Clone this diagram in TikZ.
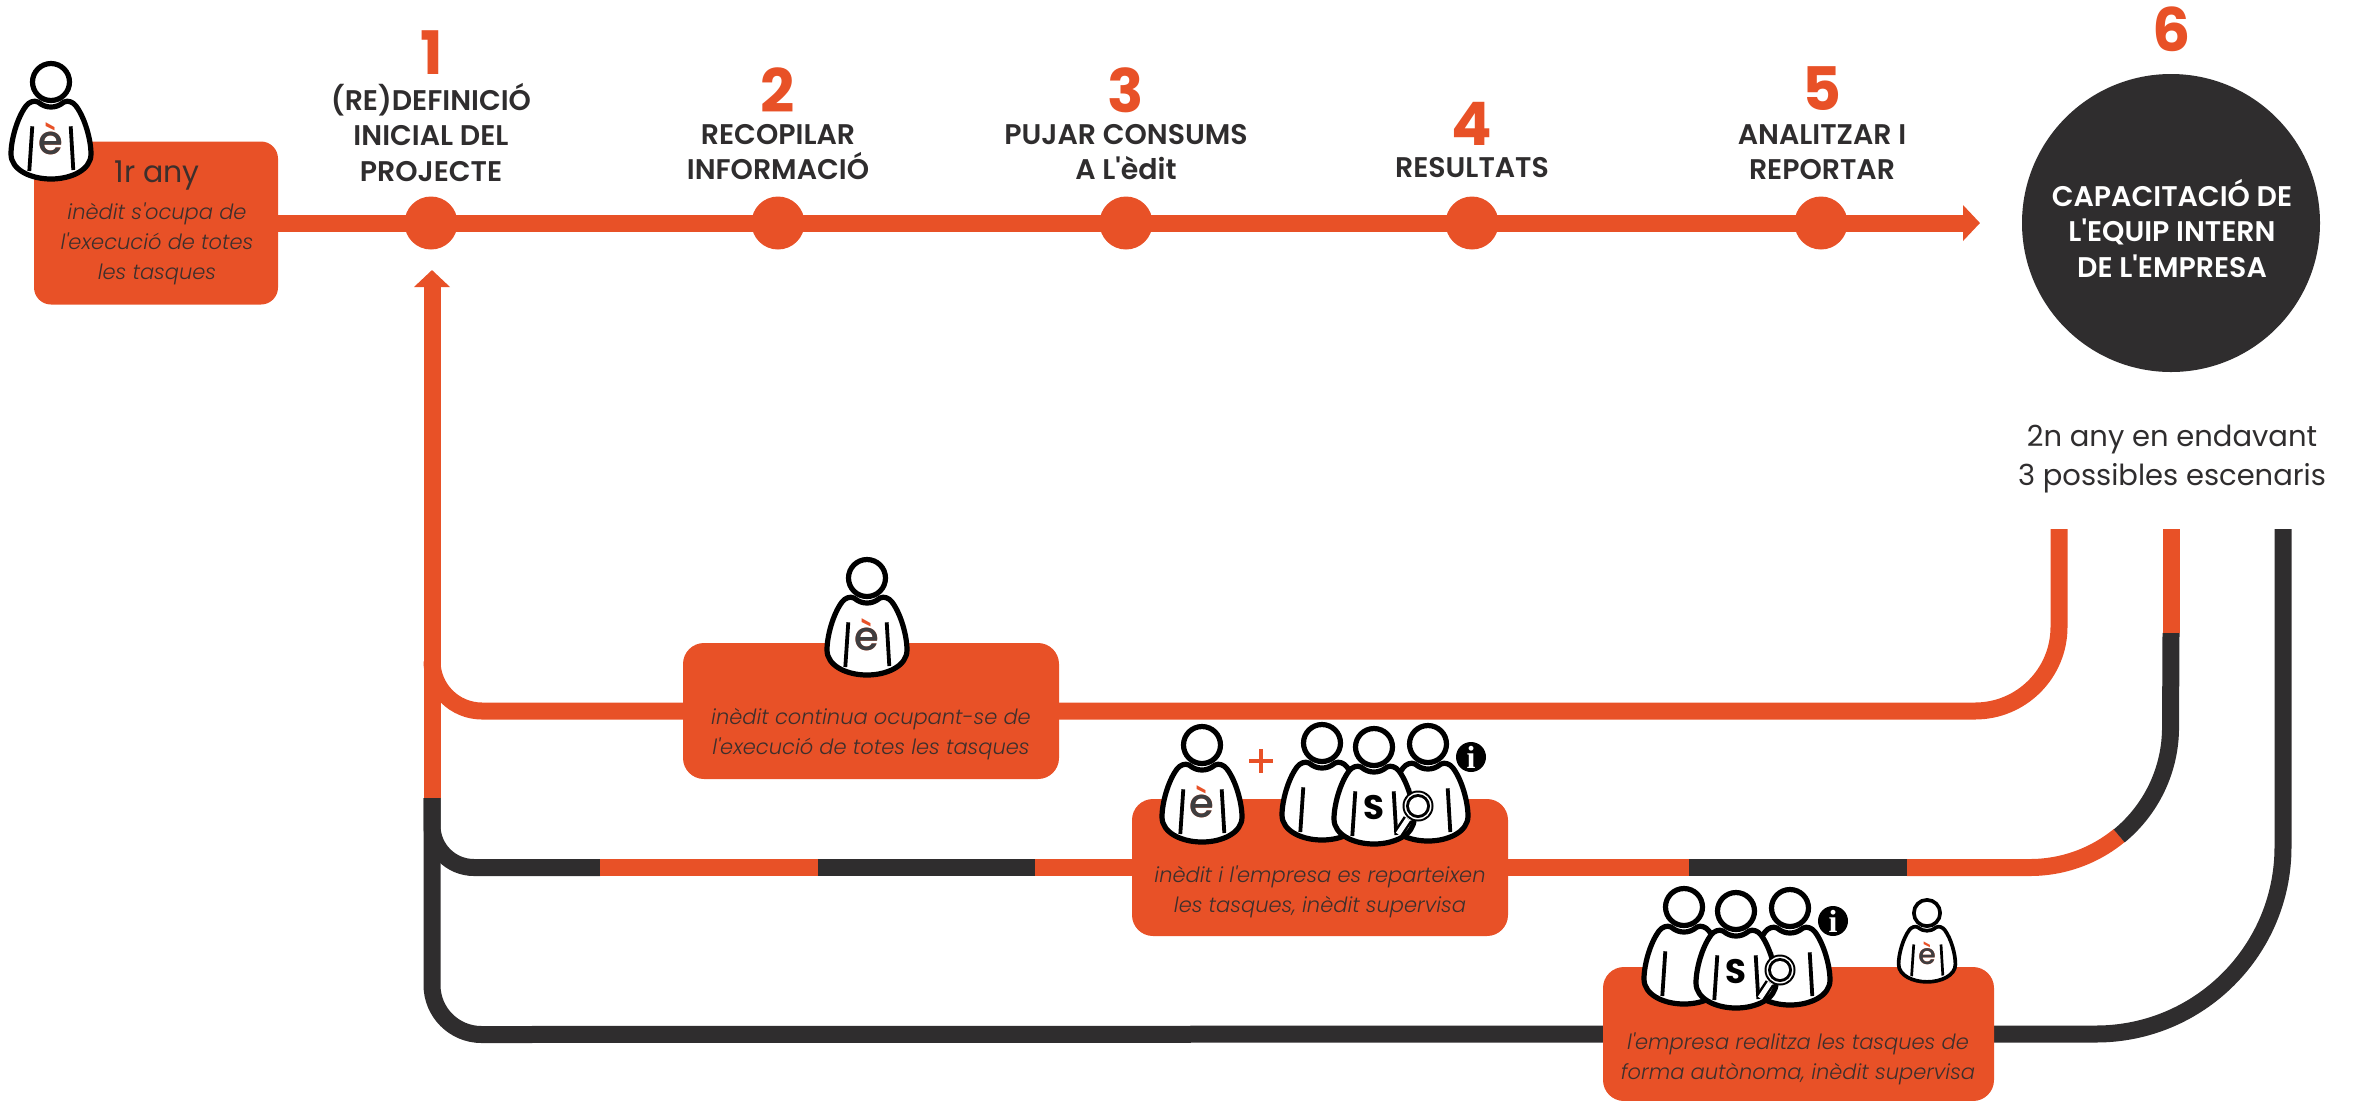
\documentclass[tikz,border=0pt]{standalone}
\usepackage{fontspec}
\usetikzlibrary{arrows.meta}
\setmainfont{Poppins}
\newfontfamily\medf{Poppins Medium}
\newfontfamily\semif{Poppins SemiBold}
\newfontfamily\lightf{Poppins Light}[ItalicFont={Poppins Light Italic}]
\newfontfamily\boldf{Poppins}[UprightFont={* Bold}]
\newfontfamily\serifb{Liberation Serif}[UprightFont={* Bold}]
\definecolor{ora}{HTML}{E85127}
\definecolor{drk}{HTML}{2F2D2E}
\definecolor{txt}{HTML}{3D2F2C}
\pgfdeclarelayer{bg}
\pgfsetlayers{bg,main}
\tikzset{
  x=0.5pt,y=-0.5pt,
  oline/.style={draw=ora,line width=8.5pt},
  dline/.style={draw=drk,line width=8.5pt},
  dotn/.style={circle,fill=ora,minimum size=26.5pt,inner sep=0pt,outer sep=0pt},
  boxn/.style={rectangle,fill=ora,rounded corners=10.5pt,inner sep=0pt,outer sep=0pt},
  num/.style={font=\boldf\fontsize{30}{30}\selectfont,text=ora,anchor=base,inner sep=0pt},
  lab/.style={font=\semif\fontsize{14.2}{17.75}\selectfont,text=drk,align=center,anchor=center,inner sep=0pt},
  ital/.style={font=\lightf\itshape\fontsize{10.5}{15}\selectfont,text=txt,align=center,anchor=center,inner sep=0pt},
  reg/.style={font=\fontsize{14.5}{19.5}\selectfont,text=drk,align=center,anchor=center,inner sep=0pt},
  ptrok/.style={draw=black,line width=2.4pt,fill=white,line join=round},
}
% #1 name, #2 x, #3 y (head centre), #4 scale, #5 chest text
\newcommand{\personshape}[5]{%
 \begin{scope}[shift={(#2,#3)},scale=#4]
  \path[ptrok,line width=#4*2.6pt] (-13,20) .. controls (-8,24) and (-4,25) .. (0,25)
     .. controls (4,25) and (8,24) .. (13,20)
     .. controls (17,18) and (22,20) .. (25,24)
     .. controls (34,36) and (40,58) .. (40,72)
     .. controls (40,88) and (20,97) .. (0,97)
     .. controls (-20,97) and (-40,88) .. (-40,72)
     .. controls (-40,58) and (-34,36) .. (-25,24)
     .. controls (-22,20) and (-17,18) .. (-13,20) -- cycle;
  \draw[black,line width=#4*1.9pt] (-18.7,44.3) -- (-21.7,89);
  \draw[black,line width=#4*1.9pt] (19.7,44.3) -- (22.3,88);
  \node[ptrok,line width=#4*2.6pt,circle,minimum size=#4*18.5pt,inner sep=0pt] (#1-head) at (0,0) {};
  \node[anchor=base,inner sep=0pt,transform shape] (#1-l) at (0,72) {#5};
 \end{scope}}
\newcommand{\echest}{\medf\fontsize{20}{20}\selectfont\rlap{\textcolor{ora}{è}}\textcolor[HTML]{3E3E40}{e}}
\newcommand{\schest}{\boldf\fontsize{17}{17}\selectfont\textcolor{black}{S}}
% #1 name #2 dx #3 dy
\newcommand{\team}[3]{%
 \begin{scope}[shift={(#2,#3)}]
  \personshape{#1a}{1322}{743}{1}{}
  \personshape{#1c}{1428}{744}{1}{}
  \personshape{#1b}{1374}{747}{1}{\schest}
  \draw[black,line width=5pt] (1408,819) -- (1398,834);
  \draw[white,line width=2.5pt] (1408,819) -- (1398,834);
  \fill[black] (1418,806) circle[radius=15.5];
  \fill[white] (1418,806) circle[radius=13.5];
  \fill[black] (1418,806) circle[radius=12];
  \fill[white] (1418,806) circle[radius=9];
  \node[circle,fill=black,minimum size=15pt,inner sep=0pt,text=white,font=\serifb\fontsize{16}{16}\selectfont] (#1i) at (1471,757) {i};
 \end{scope}}
\begin{document}
\begin{tikzpicture}
\useasboundingbox (0,0) rectangle (2358,1100);
% boxes
\node[boxn,rounded corners=8.5pt,minimum width=122pt,minimum height=81.5pt] (box1) at (156,223) {};
\node[boxn,minimum width=188pt,minimum height=68pt] (box2) at (871,711) {};
\node[boxn,minimum width=188pt,minimum height=68.5pt] (box3) at (1320,867.5) {};
\node[boxn,minimum width=195.5pt,minimum height=67pt] (box4) at (1798.5,1034) {};
% step dots
\node[dotn] (n1) at (431,223) {};
\node[dotn] (n2) at (778,223) {};
\node[dotn] (n3) at (1126,223) {};
\node[dotn] (n4) at (1472,223) {};
\node[dotn] (n5) at (1821,223) {};
\node[circle,fill=drk,minimum size=149pt,inner sep=0pt,outer sep=0pt] (n6) at (2171,223) {};
% free ends
\coordinate (arrowend) at (1980,223);
\coordinate (uptip) at (432,270);
\coordinate (splitv) at (432,798);
\coordinate (s1top) at (2059,529);
\coordinate (s2top) at (2171,529);
\coordinate (s2mid) at (2171,633);
\coordinate (s3top) at (2283,529);
\begin{pgfonlayer}{bg}
 \draw[oline] (box1.center) -- (n1.center) -- (n2.center) -- (n3.center) -- (n4.center) -- (n5.center);
 \draw[oline,-{Triangle[length=8.5pt,width=17.5pt]}] (n5.center) -- (arrowend);
 \draw[oline,-{Triangle[length=8.5pt,width=17.5pt]}] (splitv) -- (uptip);
 % scenario 1
 \draw[oline] (432,661) arc[start angle=180,end angle=90,radius=50] -- (box2.center);
 \draw[oline] (box2.center) -- (1975,711) arc[start angle=90,end angle=0,radius=84] -- (s1top);
 % scenario 3
 \draw[dline] (splitv) -- (432,985) arc[start angle=180,end angle=90,radius=49.5] -- (box4.center);
 \draw[dline] (box4.center) -- (2096,1034) arc[start angle=90,end angle=0,radius=187] -- (s3top);
 % scenario 2
 \draw[dline] (splitv) -- (432,825.5) arc[start angle=180,end angle=90,radius=42] -- (600,867.5);
 \draw[oline] (600,867.5) -- (818,867.5);
 \draw[dline] (818,867.5) -- (1035,867.5);
 \draw[oline] (1035,867.5) -- (box3.center);
 \draw[oline] (box3.center) -- (1689,867.5);
 \draw[dline] (1689,867.5) -- (1907,867.5);
 \draw[oline] (1907,867.5) -- (2030,867.5) arc[start angle=90,end angle=50.6,radius=140.5];
 \draw[dline] (2119.2,835.9) arc[start angle=50.6,end angle=0,radius=140.5] -- (s2mid);
 \draw[oline] (s2mid) -- (s2top);
\end{pgfonlayer}
% numbers
\node[num] (t1) at (432,74) {1};
\node[num] (t2) at (778,112) {2};
\node[num] (t3) at (1126,112) {3};
\node[num] (t4) at (1472,145) {4};
\node[num] (t5) at (1822,110) {5};
\node[num] (t6) at (2172,51) {6};
% labels
\node[lab] (l1) at (431,132) {(RE)DEFINICIÓ\\INICIAL DEL\\PROJECTE};
\node[lab] (l2) at (778,152) {RECOPILAR\\INFORMACIÓ};
\node[lab] (l3) at (1126,152) {PUJAR CONSUMS\\A L'èdit};
\node[lab] (l4) at (1472,168) {RESULTATS};
\node[lab] (l5) at (1822,152) {ANALITZAR I\\REPORTAR};
\node[lab,text=white] (l6) at (2172,228) {CAPACITACIÓ DE\\L'EQUIP INTERN\\DE L'EMPRESA};
\node[reg] (r1) at (2172,459.5) {2n any en endavant\\3 possibles escenaris};
\node[font=\fontsize{15}{15}\selectfont,text=txt,inner sep=0pt] (any) at (157,176) {1r any};
\node[ital] (i1) at (157,244) {inèdit s'ocupa de\\l'execució de totes\\les tasques};
\node[ital] (i2) at (871,734) {inèdit continua ocupant-se de\\l'execució de totes les tasques};
\node[ital] (i3) at (1320,892) {inèdit i l'empresa es reparteixen\\les tasques, inèdit supervisa};
\node[ital] (i4) at (1798,1059) {l'empresa realitza les tasques de\\forma autònoma, inèdit supervisa};
% people
\personshape{p1}{51}{82}{1}{\echest}
\personshape{p2}{867}{578}{1}{\echest}
\personshape{p3}{1202}{745}{1}{\echest}
\personshape{p4}{1927}{913}{0.71}{\echest}
\team{ta}{0}{0}
\team{tb}{362}{164}
\draw[ora,line width=2.3pt] (1249,761) -- (1273,761) (1261,749) -- (1261,773);
\end{tikzpicture}
\end{document}
